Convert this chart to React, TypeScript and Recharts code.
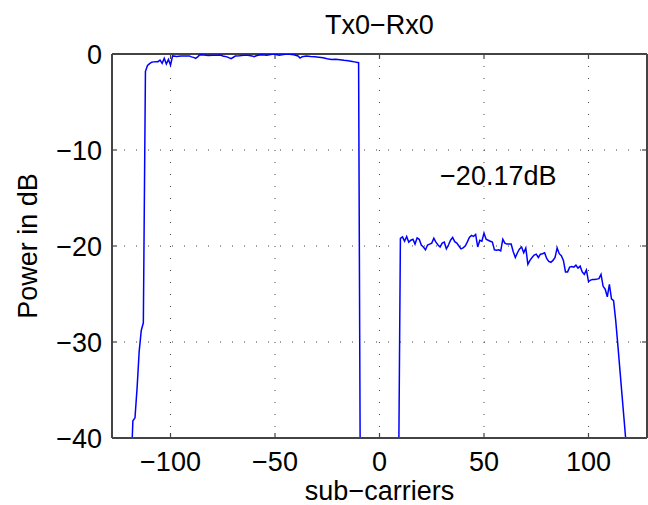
import React from 'react';
import { LineChart, Line, XAxis, YAxis, CartesianGrid, ReferenceDot, ReferenceArea } from 'recharts';

// band below DC (sub-carriers -119 .. -10)
const leftCarriers = [
  -119, -118, -117, -116, -115, -114, -113, -112, -111, -110, -109, -108, -107, -106, -105, -104, -103, -102, -101, -100,
  -99, -97, -95, -93, -91, -90, -89, -88, -87, -86, -84, -82, -80, -78, -76, -75, -73, -71, -69, -67, -65, -63, -61, -60,
  -59, -57, -55, -54, -52, -51, -49, -48, -46, -44, -42, -41, -39, -38, -37, -35, -33, -31, -29, -27, -25, -23, -21, -19,
  -17, -15, -13, -12, -11, -10,
];
const leftPower = [
  -44, -38.2, -37.9, -34.8, -31.0, -28.8, -28.0, -1.8, -1.2, -1.0, -0.85, -0.82, -0.8, -0.8, -0.63, -0.97, -0.45, -1.04, -0.56, -1.15,
  -0.2, -0.25, -0.22, -0.2, -0.2, -0.3, -0.35, -0.45, -0.3, -0.07, -0.1, -0.15, -0.12, -0.14, -0.1, -0.21, -0.3, -0.49, -0.21, -0.18, -0.12, -0.14, -0.2, -0.28,
  -0.18, -0.07, -0.1, -0.14, -0.05, 0, -0.08, -0.14, -0.06, 0, -0.05, -0.07, -0.2, -0.42, -0.28, -0.21, -0.26, -0.28, -0.33, -0.4, -0.5, -0.56, -0.55, -0.6,
  -0.66, -0.7, -0.78, -0.82, -0.87, -0.9,
];

// DC gap, below the axis range
const gapCarriers = [-9, 0, 9];
const gapPower = [-55, -65, -48];

// band above DC (sub-carriers 10 .. 118)
const rightCarriers = [
  10, 11, 12, 13, 14, 15, 16, 17, 18, 19, 20, 21, 22, 23, 24, 25, 26, 27, 28, 29, 30, 31, 32, 33, 34, 35, 36, 37, 38, 39,
  40, 41, 42, 43, 44, 45, 46, 47, 48, 49, 50, 51, 52, 53, 54, 55, 56, 57, 58, 59, 60, 61, 62, 63, 64, 65, 66, 67, 68, 69,
  70, 71, 72, 73, 74, 75, 76, 77, 78, 79, 80, 81, 82, 83, 84, 85, 86, 87, 88, 89, 90, 91, 92, 93, 94, 95, 96, 97, 98, 99,
  100, 101, 102, 103, 104, 105, 106, 107, 108, 109, 110, 111, 112, 113, 114, 115, 116, 117, 118,
];
const rightPower = [
  -19.2, -19.05, -19.5, -19.0, -19.6, -19.4, -19.3, -19.8, -19.15, -19.3, -19.9, -20.1, -20.4, -19.9, -19.8, -19.7, -19.2, -19.6, -19.9, -20.1,
  -19.7, -19.6, -20.3, -19.9, -19.4, -19.1, -19.55, -19.7, -20.0, -20.3,
  -20.2, -20.0, -19.6, -19.1, -18.9, -19.0, -18.8, -20.1, -19.4, -19.5, -18.65, -19.3, -19.4, -19.5, -19.6, -20.4, -20.45, -20.4, -20.5, -19.3,
  -19.7, -19.8, -19.8, -19.8, -20.6, -21.2, -20.7, -20.3, -20.1, -20.7,
  -20.2, -21.9, -21.5, -21.2, -20.95, -20.85, -21.2, -20.85, -20.8, -20.7, -21.3, -21.6, -21.7, -21.5, -21.2, -20.2, -20.8, -21.0, -21.5, -22.7,
  -22.7, -22.2, -22.15, -22.2, -22.0, -22.3, -22.1, -22.7, -22.95, -22.5,
  -23.7, -23.55, -23.5, -23.5, -23.45, -23.4, -22.95, -24.2, -24.5, -25.3, -24.0, -25.5, -25.7, -27.7, -30.2, -32.8, -35.4, -38.0, -40.6,
];

const xDomain = [-128, 128];
const yDomain = [-40, 0];
const xTicks = [-100, -50, 0, 50, 100];
const yTicks = [-40, -30, -20, -10, 0];

const title = 'Tx0−Rx0';
const xLabel = 'sub−carriers';
const yLabel = 'Power in dB';
const noteText = '−20.17dB';
const noteX = 29;
const noteY = -12.6;

const carriers = [...leftCarriers, ...gapCarriers, ...rightCarriers];
const power = [...leftPower, ...gapPower, ...rightPower];
const data = carriers.map((sc, i) => ({ sc, power: power[i] }));

const FONT = '"Liberation Sans", Arial, Helvetica, sans-serif';
const FS = 27;
const TICK = 5; // inward tick length, px
const INK = '#444444'; // frame + ticks
const fmt = (v: number) => (v < 0 ? `−${Math.abs(v)}` : `${v}`);

const axisLine = { stroke: INK, strokeWidth: 2 };
const txt = { fill: '#000', fontSize: FS, fontFamily: FONT };

// dotted grid line plus matlab-style inward ticks at both ends
const hGrid = (p: any) => (
  <g key={p.key}>
    <line x1={p.x1} y1={p.y1} x2={p.x2} y2={p.y2} stroke="#444" strokeDasharray="1 11" />
    <line x1={p.x1} y1={p.y1} x2={p.x1 + TICK} y2={p.y1} stroke={INK} strokeWidth={1.2} />
    <line x1={p.x2 - TICK} y1={p.y1} x2={p.x2} y2={p.y1} stroke={INK} strokeWidth={1.2} />
  </g>
);
const vGrid = (p: any) => (
  <g key={p.key}>
    <line x1={p.x1} y1={p.y1} x2={p.x2} y2={p.y2} stroke="#444" strokeDasharray="1 11" />
    <line x1={p.x1} y1={p.y1} x2={p.x1} y2={p.y1 + TICK} stroke={INK} strokeWidth={1.2} />
    <line x1={p.x1} y1={p.y2 - TICK} x2={p.x1} y2={p.y2} stroke={INK} strokeWidth={1.2} />
  </g>
);

// box round the plot area
const frameH = ({ offset }: any) => [offset.top, offset.top + offset.height];
const frameV = ({ offset }: any) => [offset.left, offset.left + offset.width];

export default function App() {
  const [x0, x1] = xDomain;
  const [y0, y1] = yDomain;
  return (
    <div style={{ position: 'absolute', left: 0, top: 0, width: 648, height: 505, background: '#fff' }}>
      <LineChart width={648} height={505} data={data} margin={{ top: 54, right: 1, bottom: 0, left: 4 }}>
        <CartesianGrid horizontal={hGrid} vertical={vGrid} />
        <CartesianGrid
          stroke={INK}
          strokeWidth={2}
          horizontalCoordinatesGenerator={frameH}
          verticalCoordinatesGenerator={frameV}
        />
        <XAxis
          dataKey="sc"
          type="number"
          domain={xDomain}
          ticks={xTicks}
          allowDataOverflow
          height={67}
          tickSize={-5}
          tickMargin={19}
          tickFormatter={fmt}
          axisLine={axisLine}
          tickLine={false}
          tick={txt}
          label={{ value: xLabel, position: 'insideBottom', offset: 5, ...txt }}
        />
        <YAxis
          type="number"
          domain={yDomain}
          ticks={yTicks}
          allowDataOverflow
          width={108}
          tickSize={-5}
          tickMargin={15}
          tickFormatter={fmt}
          axisLine={axisLine}
          tickLine={false}
          tick={txt}
          label={{
            value: yLabel,
            angle: -90,
            position: 'insideLeft',
            offset: 23,
            ...txt,
            style: { textAnchor: 'middle' },
          }}
        />
        <ReferenceArea
          x1={x0}
          x2={x1}
          y1={y0}
          y2={y1}
          ifOverflow="visible"
          fill="none"
          fillOpacity={0}
          stroke="none"
          label={{ value: title, position: 'top', offset: 20, ...txt }}
        />
        <Line dataKey="power" stroke="#0000ff" strokeWidth={1.5} dot={false} isAnimationActive={false} />
        <ReferenceDot
          x={noteX}
          y={noteY}
          r={0}
          fill="none"
          stroke="none"
          label={{ value: noteText, position: 'right', offset: 0, ...txt }}
        />
      </LineChart>
    </div>
  );
}
